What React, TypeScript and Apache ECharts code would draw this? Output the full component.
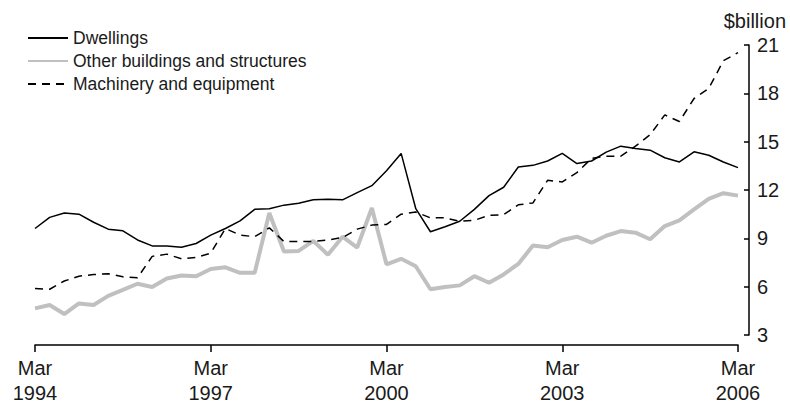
import React, { useEffect, useRef } from "react";
import * as echarts from "echarts";

const years = [1994, 1995, 1996, 1997, 1998, 1999, 2000, 2001, 2002, 2003, 2004, 2005, 2006];
const months = ["Mar", "Jun", "Sep", "Dec"];

const dwellings = [
  9.61, 10.3, 10.57, 10.5, 10.0, 9.57, 9.47, 8.9, 8.53, 8.53, 8.45, 8.68,
  9.2, 9.61, 10.08, 10.8, 10.84, 11.06, 11.18, 11.39, 11.43, 11.39, 11.84, 12.27,
  13.2, 14.27, 10.84, 9.41, 9.72, 10.06, 10.8, 11.65, 12.17, 13.43, 13.53, 13.8,
  14.27, 13.64, 13.8, 14.35, 14.72, 14.57, 14.47, 14.0, 13.74, 14.37, 14.16, 13.74,
  13.39,
];

const otherBuildings = [
  4.65, 4.86, 4.3, 4.96, 4.86, 5.43, 5.8, 6.18, 5.98, 6.51, 6.69, 6.65,
  7.1, 7.2, 6.86, 6.86, 10.57, 8.18, 8.22, 8.84, 7.98, 9.1, 8.43, 10.88,
  7.39, 7.73, 7.27, 5.84, 5.98, 6.08, 6.65, 6.24, 6.76, 7.41, 8.55, 8.45,
  8.9, 9.1, 8.73, 9.16, 9.45, 9.35, 8.94, 9.76, 10.12, 10.8, 11.45, 11.8,
  11.65,
];

const machinery = [
  5.88, 5.84, 6.35, 6.65, 6.75, 6.8, 6.61, 6.55, 7.88, 8.02, 7.73, 7.82,
  8.08, 9.61, 9.2, 9.1, 9.65, 8.8, 8.8, 8.8, 8.9, 9.05, 9.57, 9.82,
  9.86, 10.5, 10.63, 10.27, 10.27, 10.06, 10.12, 10.43, 10.47, 11.08, 11.2, 12.6,
  12.5, 13.08, 13.96, 14.1, 14.1, 14.72, 15.43, 16.66, 16.25, 17.68, 18.3, 20.02,
  20.53,
];

const seriesNames = ["Dwellings", "Other buildings and structures", "Machinery and equipment"];
const yTicks = { min: 3, max: 21, interval: 3 };

const categories: string[] = [];
years.forEach((y) => {
  months.forEach((m) => {
    if (y === 2006 && m !== "Mar") return;
    categories.push(m + "\n" + y);
  });
});

const FONT = "'Liberation Sans', Arial, sans-serif";

export default function App() {
  const ref = useRef<HTMLDivElement>(null);
  useEffect(() => {
    if (!ref.current) return;
    const chart = echarts.init(ref.current, null, { renderer: "svg" });
    const labelShown = (idx: number) => idx % 12 === 0;
    chart.setOption({
      animation: false,
      backgroundColor: "#ffffff",
      textStyle: { fontFamily: FONT },
      grid: { left: 35, right: 52, top: 45, bottom: 67, containLabel: false },
      legend: {
        orient: "vertical",
        left: 22,
        top: 23,
        itemWidth: 40,
        itemHeight: 14,
        itemGap: 3,
        align: "left",
        itemStyle: { opacity: 0 },
        textStyle: { fontSize: 17.5, lineHeight: 20, color: "#1a1a1a", fontFamily: FONT },
        data: seriesNames,
      },
      graphic: [
        {
          type: "text",
          right: 4,
          top: 11,
          style: { text: "$billion", fontSize: 20, fill: "#1a1a1a", fontFamily: FONT },
        },
      ],
      xAxis: {
        type: "category",
        data: categories,
        boundaryGap: false,
        offset: 10,
        axisLine: { show: true, lineStyle: { color: "#000", width: 1.5 } },
        axisTick: { show: true, interval: (i: number) => labelShown(i), length: 7, lineStyle: { color: "#000", width: 1.5 } },
        axisLabel: {
          interval: (i: number) => labelShown(i),
          fontSize: 20,
          lineHeight: 25,
          color: "#1a1a1a",
          margin: 10,
          fontFamily: FONT,
        },
        splitLine: { show: false },
      },
      yAxis: {
        type: "value",
        position: "right",
        offset: 11,
        min: yTicks.min,
        max: yTicks.max,
        interval: yTicks.interval,
        axisLine: { show: true, lineStyle: { color: "#000", width: 1.5 } },
        axisTick: { show: true, inside: true, length: 5, lineStyle: { color: "#000", width: 1.5 } },
        axisLabel: { fontSize: 20, color: "#1a1a1a", margin: 8, fontFamily: FONT },
        splitLine: { show: false },
      },
      series: [
        {
          name: seriesNames[0],
          type: "line",
          data: dwellings,
          symbol: "none",
          lineStyle: { color: "#000", width: 1.5 },
          itemStyle: { color: "#000" },
          z: 3,
        },
        {
          name: seriesNames[1],
          type: "line",
          data: otherBuildings,
          symbol: "none",
          lineStyle: { color: "#c0c0c0", width: 4 },
          itemStyle: { color: "#c0c0c0" },
          z: 1,
        },
        {
          name: seriesNames[2],
          type: "line",
          data: machinery,
          symbol: "none",
          lineStyle: { color: "#000", width: 1.5, type: [8, 6] },
          itemStyle: { color: "#000" },
          z: 2,
        },
      ],
    });
    return () => chart.dispose();
  }, []);
  return <div ref={ref} style={{ width: 790, height: 405, position: "absolute", left: 0, top: 0 }} />;
}
